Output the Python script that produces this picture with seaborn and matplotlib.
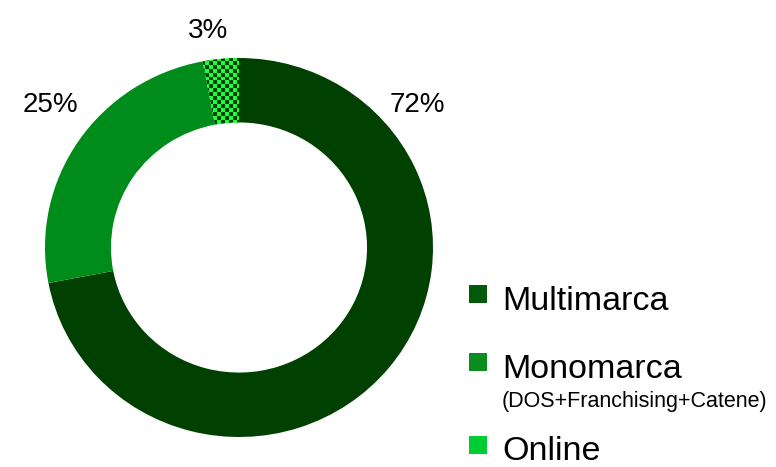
import matplotlib
matplotlib.use('Agg')
import matplotlib.pyplot as plt
from matplotlib.patches import Rectangle
import numpy as np
import seaborn as sns

sns.set_style('white')
plt.rcParams['font.family'] = ['Liberation Sans', 'DejaVu Sans']
plt.rcParams['text.color'] = 'black'

# data
channels = ['Multimarca', 'Monomarca', 'Online']
shares = [72, 25, 3]
share_labels = ['72%', '25%', '3%']
subtitles = ['', '(DOS+Franchising+Catene)', '']

wedge_colors = ['#004000', '#008c1a', '#1aff3c']
legend_colors = ['#005a0a', '#0a8c1e', '#00cc33']

fig = plt.figure(figsize=(7.76, 4.67), dpi=100)
ax = fig.add_axes([45 / 776, 30 / 467, 388 / 776, 379 / 467])

wedges, _ = ax.pie(shares, colors=wedge_colors, startangle=90, counterclock=False,
                   radius=1.0, wedgeprops=dict(width=0.34, linewidth=0))

# checkerboard fill on the small online slice
n = 97
checker = (np.add.outer(np.arange(n), np.arange(n)) % 2).astype(float)
cmap = matplotlib.colors.ListedColormap(['#004000', '#1aff3c'])
img = ax.imshow(checker, cmap=cmap, extent=(-1, 1, -1, 1), interpolation='nearest',
                aspect='auto', zorder=3)
img.set_clip_path(wedges[2])

ax.set_xlim(-1, 1)
ax.set_ylim(-1, 1)
ax.set_aspect('auto')
ax.axis('off')

# percentage labels
label_pos = [(0.92, 0.75), (-0.97, 0.75), (-0.16, 1.145)]
for (x, y), txt in zip(label_pos, share_labels):
    ax.text(x, y, txt, ha='center', va='center', fontsize=20, color='black', clip_on=False)

# legend drawn by hand
rows_y = [294, 362, 445]
for name, sub, col, yc in zip(channels, subtitles, legend_colors, rows_y):
    fig.patches.append(Rectangle((469 / 776, 1 - (yc + 9) / 467), 18 / 776, 18 / 467,
                                 transform=fig.transFigure, facecolor=col, edgecolor='none'))
    fig.text(502 / 776, 1 - (yc + 7) / 467, name, ha='left', va='center', fontsize=24.5)
    if sub:
        fig.text(502 / 776, 1 - (yc + 40) / 467, sub, ha='left', va='center', fontsize=15.5)

fig.savefig('out.png', dpi=100)
